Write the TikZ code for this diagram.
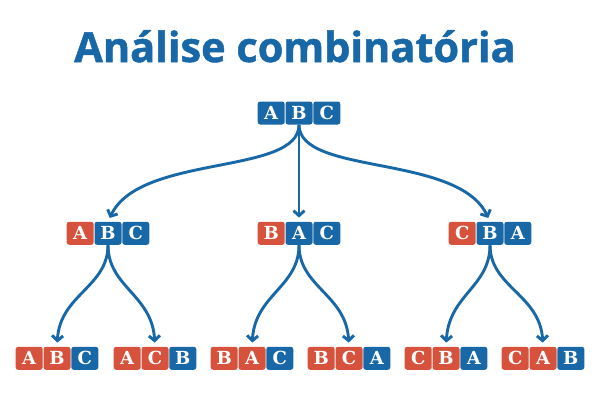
\documentclass[tikz,border=0pt]{standalone}
\usepackage{fontspec}
\setmainfont{Open Sans}
\newfontfamily\heavy{Open Sans}[BoldFeatures={FakeBold=1.2}]
\newfontfamily\slab{DejaVu Serif}
\usetikzlibrary{arrows.meta}
\definecolor{myblue}{RGB}{24,104,168}
\definecolor{myred}{RGB}{214,82,60}
\tikzset{
  cell/.style={rounded corners=2.5pt, minimum width=27pt, minimum height=23pt, inner sep=0pt,
    text=white, font=\slab\bfseries\fontsize{18}{18}\selectfont},
  bc/.style={cell, fill=myblue},
  rc/.style={cell, fill=myred},
  link/.style={draw=myblue, line width=2.9pt, -{Straight Barb[length=5pt,width=11pt]}, shorten >=4pt},
  title/.style={text=myblue, font=\heavy\bfseries\fontsize{41.5}{41.5}\selectfont, anchor=base, inner sep=0pt},
}
\newcommand\trio[9]{%
  \node[#4] (#1-1) at (#2-27.8,#3) {#7};
  \node[#5] (#1-2) at (#2,#3) {#8};
  \node[#6] (#1-3) at (#2+27.8,#3) {#9};}
\begin{document}
\begin{tikzpicture}[x=1pt,y=-1pt]
\useasboundingbox (0,0) rectangle (600,400);
\node[title] (t) at (295,62) {Análise combinatória};
% root
\trio{r}{299}{113}{bc}{bc}{bc}{A}{B}{C}
% level 2
\trio{a}{108}{233.3}{rc}{bc}{bc}{A}{B}{C}
\trio{b}{299}{233.3}{rc}{bc}{bc}{B}{A}{C}
\trio{c}{490}{233.3}{rc}{bc}{bc}{C}{B}{A}
% level 3
\trio{aa}{57}{358.3}{rc}{rc}{bc}{A}{B}{C}
\trio{ab}{155}{358.3}{rc}{rc}{bc}{A}{C}{B}
\trio{ba}{252}{358.3}{rc}{rc}{bc}{B}{A}{C}
\trio{bb}{349}{358.3}{rc}{rc}{bc}{B}{C}{A}
\trio{ca}{446}{358.3}{rc}{rc}{bc}{C}{B}{A}
\trio{cb}{543}{358.3}{rc}{rc}{bc}{C}{A}{B}
% connectors
\draw[link] (r-2.south) .. controls +(0,51) and +(32,-68) .. (a-2.north);
\draw[link] (r-2.south) -- (b-2.north);
\draw[link] (r-2.south) .. controls +(0,51) and +(-32,-68) .. (c-2.north);
\draw[link] (a-2.south) .. controls +(0,42) and +(3,-52) .. (aa-2.north);
\draw[link] (a-2.south) .. controls +(0,42) and +(-3,-52) .. (ab-2.north);
\draw[link] (b-2.south) .. controls +(0,42) and +(3,-52) .. (ba-2.north);
\draw[link] (b-2.south) .. controls +(0,42) and +(-3,-52) .. (bb-2.north);
\draw[link] (c-2.south) .. controls +(0,42) and +(3,-52) .. (ca-2.north);
\draw[link] (c-2.south) .. controls +(0,42) and +(-3,-52) .. (cb-2.north);
\end{tikzpicture}
\end{document}
